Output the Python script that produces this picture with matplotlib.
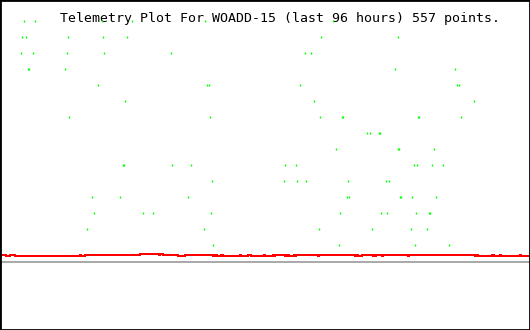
import matplotlib
matplotlib.use("Agg")
import matplotlib.pyplot as plt

# Title text
title = "Telemetry Plot For WOADD-15 (last 96 hours) 557 points."

# Green telemetry samples: hours for each channel level (1 = lowest row, 15 = top row)
green_hours = {
    15: [4.35, 6.29, 18.42, 23.85, 37.13, 60.37],
    14: [3.93, 4.71, 12.37, 18.71, 23.06, 58.20, 72.04],
    13: [3.75, 6.03, 12.19, 18.89, 31.03, 55.24, 56.39],
    12: [5.07, 5.25, 11.83, 71.60, 82.47],
    11: [17.81, 37.58, 37.77, 54.39, 82.78, 83.14],
    10: [22.70, 56.82, 85.91],
    9: [12.55, 38.09, 58.02, 61.98, 62.16, 75.75, 75.93, 83.56],
    8: [66.53, 67.07, 68.56, 68.74],
    7: [60.91, 72.13, 72.31, 78.66],
    6: [22.22, 22.51, 31.21, 34.65, 51.68, 53.67, 75.04, 75.59, 78.30, 80.29],
    5: [38.45, 51.50, 53.85, 55.48, 63.09, 69.97, 70.51],
    4: [16.72, 21.79, 34.11, 62.91, 63.27, 72.49, 72.67, 74.68, 79.03],
    3: [17.08, 25.96, 27.77, 38.27, 61.64, 69.07, 70.15, 75.40, 77.70, 77.89],
    2: [15.81, 37.00, 57.84, 67.43, 74.50, 77.40],
    1: [38.63, 61.46, 75.22, 81.38],
}

# Red series: change times (hours) and value held from that time on
red_hours = [0.00, 1.09, 1.81, 2.72, 14.49, 14.67, 15.40, 25.36, 28.80, 28.98,
             29.52, 32.24, 33.51, 38.58, 38.94, 39.31, 40.03, 40.39, 43.47, 43.65,
             44.92, 45.46, 47.82, 48.00, 49.45, 49.63, 49.81, 51.62, 51.98, 52.35,
             53.25, 53.43, 53.61, 57.60, 57.78, 64.30, 64.66, 64.84, 65.57, 67.56,
             67.74, 67.92, 68.10, 69.19, 69.37, 73.90, 74.08, 86.04, 86.40, 86.58,
             89.12, 89.48, 90.57, 90.75, 94.19, 94.37, 96.00]
red_values = [0.43, 0.36, 0.43, 0.36, 0.43, 0.36, 0.43, 0.49, 0.43, 0.49,
              0.43, 0.36, 0.43, 0.36, 0.43, 0.36, 0.43, 0.36, 0.43, 0.36,
              0.43, 0.36, 0.43, 0.36, 0.43, 0.36, 0.43, 0.36, 0.43, 0.36,
              0.43, 0.36, 0.43, 0.36, 0.43, 0.36, 0.43, 0.36, 0.43, 0.36,
              0.43, 0.36, 0.43, 0.36, 0.43, 0.36, 0.43, 0.36, 0.43, 0.36,
              0.43, 0.36, 0.43, 0.36, 0.43, 0.36, 0.36]

baseline = 0.0

fig = plt.figure(figsize=(5.3, 3.3), dpi=100)
ax = fig.add_axes([0, 0, 1, 1])

ax.axhline(baseline, color="#aaaaaa", lw=1.44, zorder=1, antialiased=False)
ax.plot(red_hours, red_values, drawstyle="steps-post", color="#ff0000", lw=1.4,
        zorder=2, antialiased=False)

for level, hours in green_hours.items():
    ax.plot(hours, [level] * len(hours), linestyle="none", marker="|",
            ms=1.6, mew=1.0, color="#00ff00", zorder=4, antialiased=False)

ax.text(60 / 530, 1 - 22 / 330, title, transform=ax.transAxes, family="DejaVu Sans Mono",
        fontsize=9.5, color="black", va="baseline", ha="left", zorder=3)

ax.set_xlim(0, 96)
ax.set_ylim(-4.28, 16.34)
ax.set_xticks([])
ax.set_yticks([])
for s in ax.spines.values():
    s.set_color("black")
    s.set_linewidth(2.0)

fig.savefig("out.png", dpi=100, facecolor="white")
